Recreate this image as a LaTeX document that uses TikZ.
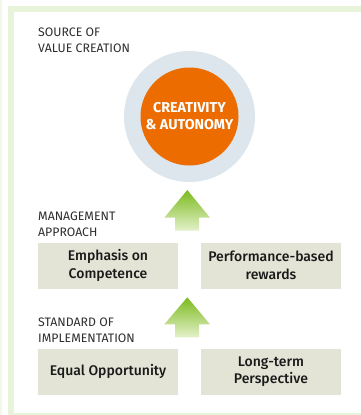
\documentclass[tikz,border=0pt]{standalone}
\usepackage{fontspec}
\setmainfont{Fira Sans}[BoldFont={Fira Sans Medium}]
\newfontfamily\heavy{Fira Sans}[UprightFont={* Bold}]
\definecolor{framegreen}{HTML}{E8F4DA}
\definecolor{ringblue}{HTML}{DCE6EC}
\definecolor{orangec}{HTML}{EC6C00}
\definecolor{boxbeige}{HTML}{E3E4D6}
\definecolor{labelgrey}{HTML}{2E2E2E}
\definecolor{arrowtop}{HTML}{7CBA1E}
\definecolor{arrowbot}{HTML}{E4F1CB}
\begin{document}
\begin{tikzpicture}[x=1pt,y=-1pt,
  lbl/.style={anchor=north west,align=left,text=labelgrey,font=\fontsize{12.3}{15.8}\selectfont,inner sep=0pt},
  valuebox/.style={fill=boxbeige,minimum width=140pt,minimum height=46pt,align=center,inner sep=0pt,font=\bfseries\fontsize{14}{17.5}\selectfont,text=black!90},
  uparrow/.style={top color=arrowtop,bottom color=arrowbot,draw=none}]
\useasboundingbox (0,0) rectangle (361,415);
\clip (0,0) rectangle (361,415);
\fill[white] (0,0) rectangle (361,415);
\draw[framegreen!60,line width=2pt] (1,0) -- (1,415);
\draw[framegreen,line width=6pt] (11,9) rectangle (370,416);
% circle
\node[circle,fill=ringblue,minimum size=131pt,inner sep=0pt] (ring) at (189.5,116.5) {};
\node[circle,fill=orangec,minimum size=98pt,inner sep=0pt,align=center,text=white,font=\heavy\fontsize{14.3}{17}\selectfont] (core) at (189.5,116.5) {CREATIVITY\\\& AUTONOMY};
% labels
\node[lbl] (l1) at (38,27.5) {SOURCE OF\\VALUE CREATION};
\node[lbl] (l2) at (38,211.5) {MANAGEMENT\\APPROACH};
\node[lbl] (l3) at (38,317.5) {STANDARD OF\\IMPLEMENTATION};
% boxes
\node[valuebox] (b1) at (108,265.5) {Emphasis on\\Competence};
\node[valuebox] (b2) at (271,265.5) {Performance-based\\rewards};
\node[valuebox] (b3) at (108,371.5) {Equal Opportunity};
\node[valuebox] (b4) at (271,371.5) {Long-term\\Perspective};
% arrows
\shade[uparrow] (187.3,190) -- (210,217.7) -- (199,217.7) -- (199,230.7) -- (175,230.7) -- (175,217.7) -- (164.3,217.7) -- cycle;
\shade[uparrow] (187.3,297.3) -- (210,324.3) -- (199,324.3) -- (199,337.3) -- (175,337.3) -- (175,324.3) -- (164.3,324.3) -- cycle;
\end{tikzpicture}
\end{document}
